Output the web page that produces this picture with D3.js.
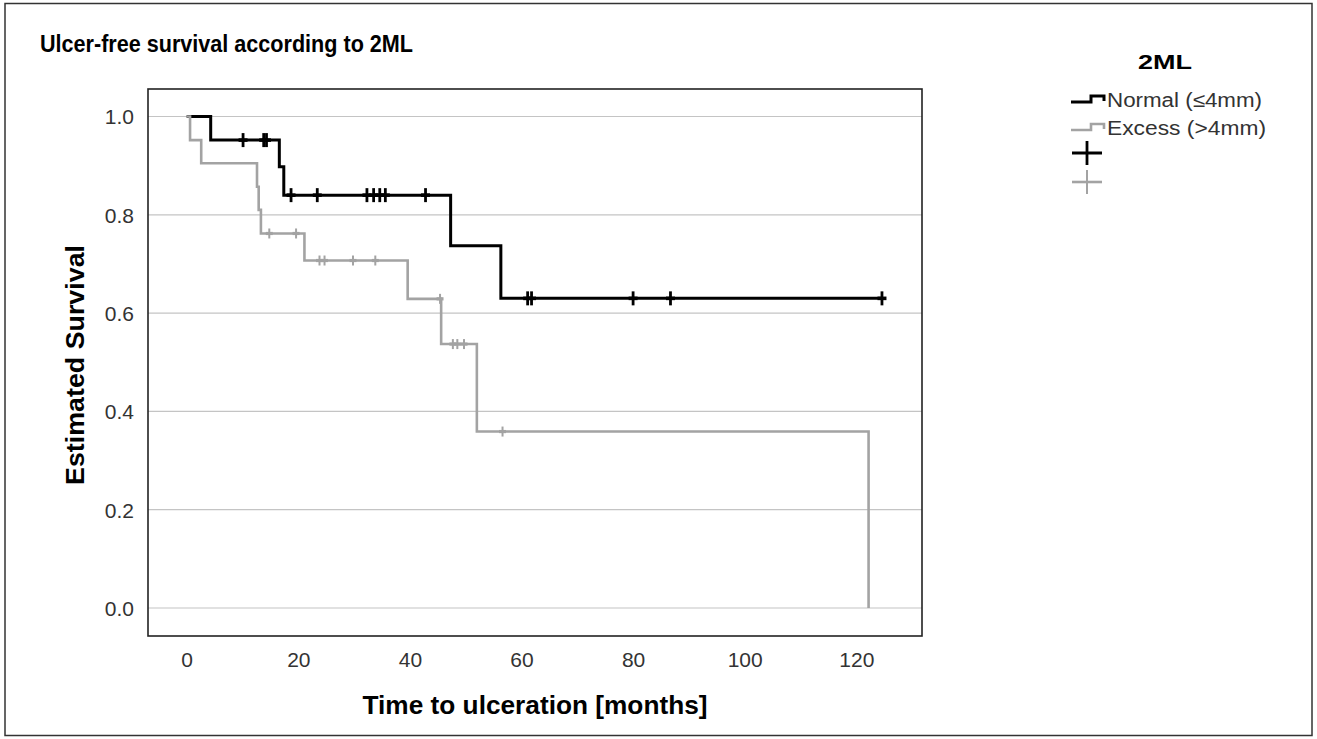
<!DOCTYPE html>
<html>
<head>
<meta charset="utf-8">
<script src="https://d3js.org/d3.v7.min.js"></script>
<style>
    body { margin: 0; background: #fff; }
    svg { display: block; }
</style>
</head>
<body>
<div id="chart"></div>
<script>
// Kaplan-Meier steps
var normalEventT = [4.3, 16.6, 17.4, 47.3, 56.3];
var normalEventS = [0.952, 0.898, 0.840, 0.737, 0.630];
var normalCensorT = [10.1, 13.8, 14.3, 18.7, 23.4, 32.3, 33.5, 34.6, 35.6, 42.8, 61.1, 61.8, 80.0, 86.7, 124.6];
var normalEndT = 124.6;

var excessEventT = [0.6, 2.6, 12.6, 12.9, 13.3, 21.1, 39.6, 45.6, 52.0, 122.2];
var excessEventS = [0.952, 0.905, 0.857, 0.810, 0.762, 0.707, 0.629, 0.537, 0.359, 0.0];
var excessCensorT = [14.8, 19.6, 23.8, 24.7, 29.8, 33.8, 45.4, 47.7, 48.5, 49.7, 56.6];
var excessEndT = 122.2;

var xTicks = [0, 20, 40, 60, 80, 100, 120];
var yTicks = [0.0, 0.2, 0.4, 0.6, 0.8, 1.0];
var groupNames = ["Normal (\u22644mm)", "Excess (>4mm)"];

var width = 1317, height = 739;
var frame = {left: 148, top: 89, right: 922, bottom: 636};
var font = "Liberation Sans, Arial, sans-serif";

var svg = d3.select("#chart").append("svg")
    .attr("width", width)
    .attr("height", height);

// outer border
svg.append("rect")
    .attr("x", 5).attr("y", 3.5)
    .attr("width", 1307).attr("height", 732)
    .attr("fill", "none").attr("stroke", "#333").attr("stroke-width", 1.5);

var x = d3.scaleLinear().domain([0, 120]).range([186.7, 856.3]);
var y = d3.scaleLinear().domain([0, 1]).range([608, 116.5]);

// grid lines
svg.append("g").selectAll("line")
    .data(yTicks)
    .enter().append("line")
    .attr("x1", frame.left).attr("x2", frame.right)
    .attr("y1", function(d) { return y(d); })
    .attr("y2", function(d) { return y(d); })
    .attr("stroke", "#c4c4c4").attr("stroke-width", 1.2);

// axes (labels only, no tick marks)
var yAxis = d3.axisLeft(y).tickValues(yTicks).tickFormat(d3.format(".1f")).tickSize(0).tickPadding(0);
var gy = svg.append("g").attr("transform", "translate(" + (frame.left - 14) + ",0)").call(yAxis);
gy.select(".domain").remove();
gy.selectAll("text")
    .attr("font-family", font)
    .attr("font-size", 21).attr("fill", "#333").attr("dy", "0.35em");

var xAxis = d3.axisBottom(x).tickValues(xTicks).tickSize(0).tickPadding(0);
var gx = svg.append("g").attr("transform", "translate(0," + (frame.bottom + 16) + ")").call(xAxis);
gx.select(".domain").remove();
gx.selectAll("text")
    .attr("font-family", font)
    .attr("font-size", 21).attr("fill", "#333").attr("dy", "0.7em");

// frame
svg.append("rect")
    .attr("x", frame.left).attr("y", frame.top)
    .attr("width", frame.right - frame.left).attr("height", frame.bottom - frame.top)
    .attr("fill", "none").attr("stroke", "#222").attr("stroke-width", 1.6);

function stepPoints(eventT, eventS, endT) {
    var pts = [[0, 1]];
    var s = 1;
    for (var i = 0; i < eventT.length; i++) {
        pts.push([eventT[i], s]);
        s = eventS[i];
        pts.push([eventT[i], s]);
    }
    if (endT > eventT[eventT.length - 1]) pts.push([endT, s]);
    return pts;
}

function survivalAt(t, eventT, eventS) {
    var s = 1;
    for (var i = 0; i < eventT.length; i++) {
        if (eventT[i] <= t) s = eventS[i];
    }
    return s;
}

var line = d3.line()
    .x(function(d) { return x(d[0]); })
    .y(function(d) { return y(d[1]); });

var groups = [
    {eventT: normalEventT, eventS: normalEventS, censorT: normalCensorT, endT: normalEndT,
     color: "#000", width: 3, tickV: 7, tickH: 4.5, tickW: 2.8},
    {eventT: excessEventT, eventS: excessEventS, censorT: excessCensorT, endT: excessEndT,
     color: "#a3a3a3", width: 2.6, tickV: 5, tickH: 3.5, tickW: 2}
];

groups.forEach(function(g) {
    svg.append("path")
        .attr("d", line(stepPoints(g.eventT, g.eventS, g.endT)))
        .attr("fill", "none")
        .attr("stroke", g.color)
        .attr("stroke-width", g.width);

    var marks = svg.append("g").selectAll("g")
        .data(g.censorT)
        .enter().append("g")
        .attr("transform", function(t) {
            return "translate(" + x(t) + "," + y(survivalAt(t, g.eventT, g.eventS)) + ")";
        });
    marks.append("line")
        .attr("x1", 0).attr("x2", 0).attr("y1", -g.tickV).attr("y2", g.tickV)
        .attr("stroke", g.color).attr("stroke-width", g.tickW);
    marks.append("line")
        .attr("x1", -g.tickH).attr("x2", g.tickH).attr("y1", 0).attr("y2", 0)
        .attr("stroke", g.color).attr("stroke-width", g.width + 0.6);
});

// titles
svg.append("text")
    .attr("x", 40).attr("y", 52)
    .attr("font-family", font)
    .attr("font-weight", "bold").attr("font-size", 23)
    .attr("textLength", 373).attr("lengthAdjust", "spacingAndGlyphs")
    .text("Ulcer-free survival according to 2ML");

svg.append("text")
    .attr("x", 535).attr("y", 714)
    .attr("text-anchor", "middle")
    .attr("font-family", font)
    .attr("font-weight", "bold").attr("font-size", 26)
    .attr("textLength", 345).attr("lengthAdjust", "spacingAndGlyphs")
    .text("Time to ulceration [months]");

svg.append("text")
    .attr("transform", "translate(84,365) rotate(-90)")
    .attr("text-anchor", "middle")
    .attr("font-family", font)
    .attr("font-weight", "bold").attr("font-size", 26)
    .attr("textLength", 240).attr("lengthAdjust", "spacingAndGlyphs")
    .text("Estimated Survival");

// legend
var legend = svg.append("g");
legend.append("text")
    .attr("x", 1165).attr("y", 69)
    .attr("text-anchor", "middle")
    .attr("font-family", font)
    .attr("font-weight", "bold").attr("font-size", 20)
    .attr("textLength", 54).attr("lengthAdjust", "spacingAndGlyphs")
    .text("2ML");

var legendItems = legend.selectAll("g.item")
    .data(groupNames)
    .enter().append("g")
    .attr("class", "item")
    .attr("transform", function(d, i) { return "translate(1071," + (100 + i * 28) + ")"; });
legendItems.append("path")
    .attr("d", "M0,2H20V-4H33V1")
    .attr("fill", "none")
    .attr("stroke", function(d, i) { return groups[i].color; })
    .attr("stroke-width", function(d, i) { return groups[i].width; });
legendItems.append("text")
    .attr("x", 36).attr("y", 0).attr("dy", "0.35em")
    .attr("font-family", font)
    .attr("font-size", 20).attr("fill", "#333")
    .attr("textLength", function(d, i) { return i === 0 ? 155 : 159; })
    .attr("lengthAdjust", "spacingAndGlyphs")
    .text(function(d) { return d; });

var legendMarks = legend.selectAll("g.mark")
    .data(groupNames)
    .enter().append("g")
    .attr("class", "mark")
    .attr("transform", function(d, i) { return "translate(1087," + (153 + i * 29) + ")"; });
legendMarks.append("line")
    .attr("x1", -15).attr("x2", 15).attr("y1", 0).attr("y2", 0)
    .attr("stroke", function(d, i) { return groups[i].color; })
    .attr("stroke-width", function(d, i) { return groups[i].width; });
legendMarks.append("line")
    .attr("x1", 0).attr("x2", 0).attr("y1", -12).attr("y2", 12)
    .attr("stroke", function(d, i) { return groups[i].color; })
    .attr("stroke-width", function(d, i) { return groups[i].tickW; });
</script>
</body>
</html>
